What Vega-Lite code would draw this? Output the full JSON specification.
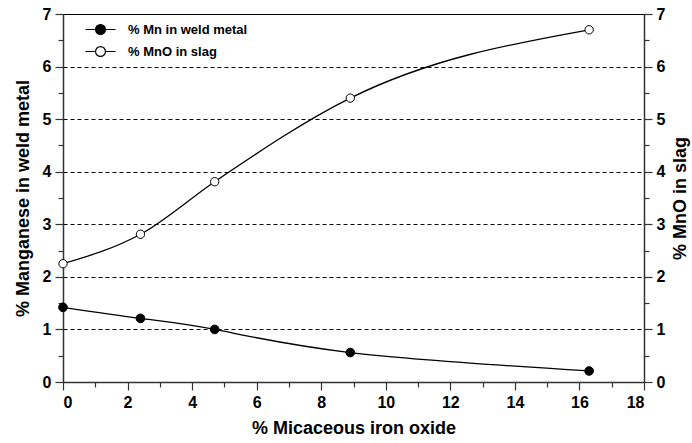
{
  "$schema": "https://vega.github.io/schema/vega-lite/v6.json",
  "width": 581,
  "height": 368,
  "autosize": "none",
  "padding": {"left": 63, "top": 14, "right": 48, "bottom": 61},
  "background": "white",
  "config": {
    "font": "Liberation Sans",
    "view": {"stroke": "black", "strokeWidth": 1},
    "axis": {
      "domainColor": "#333333",
      "domainWidth": 1.5,
      "tickColor": "#333333",
      "tickWidth": 1.2,
      "labelFont": "Liberation Sans",
      "labelFontSize": 16,
      "labelFontWeight": "bold",
      "labelColor": "black",
      "titleFont": "Liberation Sans",
      "titleFontSize": 18,
      "titleFontWeight": "bold",
      "titleColor": "black"
    },
    "legend": {
      "labelFont": "Liberation Sans",
      "labelFontSize": 13,
      "labelFontWeight": "bold",
      "labelColor": "black"
    }
  },
  "data": {
    "values": [
      {"series": "% Mn in weld metal", "x": 0, "y": 1.42},
      {"series": "% Mn in weld metal", "x": 2.4, "y": 1.21},
      {"series": "% Mn in weld metal", "x": 4.7, "y": 1.0},
      {"series": "% Mn in weld metal", "x": 8.9, "y": 0.56},
      {"series": "% Mn in weld metal", "x": 16.3, "y": 0.21},
      {"series": "% MnO in slag", "x": 0, "y": 2.25},
      {"series": "% MnO in slag", "x": 2.4, "y": 2.81},
      {"series": "% MnO in slag", "x": 4.7, "y": 3.81},
      {"series": "% MnO in slag", "x": 8.9, "y": 5.4},
      {"series": "% MnO in slag", "x": 16.3, "y": 6.7}
    ]
  },
  "encoding": {
    "x": {
      "field": "x",
      "type": "quantitative",
      "scale": {"domain": [0, 18], "nice": false, "zero": false},
      "axis": {
        "title": "% Micaceous iron oxide",
        "values": [0,1,2,3,4,5,6,7,8,9,10,11,12,13,14,15,16,17,18],
        "labelExpr": "datum.value % 2 ? '' : format(datum.value, 'd')",
        "tickSize": {"condition": {"test": "datum.value % 2 !== 0", "value": 5}, "value": 8},
        "labelPadding": 4,
        "titlePadding": 9,
        "grid": false
      }
    }
  },
  "layer": [
    {
      "transform": [{"filter": "datum.series === '% Mn in weld metal'"}],
      "encoding": {
        "y": {
          "field": "y",
          "type": "quantitative",
          "scale": {"domain": [0, 7], "nice": false},
          "axis": {
            "title": "% Manganese in weld metal",
            "orient": "left",
            "values": [0,0.5,1,1.5,2,2.5,3,3.5,4,4.5,5,5.5,6,6.5,7],
            "labelExpr": "datum.value % 1 ? '' : format(datum.value, 'd')",
            "tickSize": {"condition": {"test": "datum.value % 1 !== 0", "value": 5}, "value": 8},
            "labelPadding": 4,
            "titlePadding": 10,
            "grid": true,
            "gridColor": "black",
            "gridDash": [4, 3],
            "gridWidth": 1,
            "gridOpacity": {"condition": {"test": "datum.value % 1 === 0 && datum.value > 0 && datum.value < 7", "value": 1}, "value": 0}
          }
        }
      },
      "layer": [
        {"mark": {"type": "line", "interpolate": "natural", "color": "black", "strokeWidth": 1.3}},
        {
          "mark": {"type": "point", "filled": true, "stroke": "black", "strokeWidth": 1, "size": 75, "opacity": 1},
          "encoding": {
            "fill": {
              "field": "series",
              "type": "nominal",
              "scale": {"domain": ["% Mn in weld metal", "% MnO in slag"], "range": ["black", "white"]},
              "legend": {
                "title": null,
                "orient": "none",
                "legendX": 29,
                "legendY": 7,
                "symbolType": "M-2,0L-0.66,0M0.66,0L2,0M0.66,0A0.66,0.66,0,1,1,-0.66,0A0.66,0.66,0,1,1,0.66,0Z",
                "symbolSize": 225,
                "symbolStrokeColor": "black",
                "symbolStrokeWidth": 1.2,
                "labelOffset": 19,
                "rowPadding": 6
              }
            }
          }
        }
      ]
    },
    {
      "transform": [{"filter": "datum.series === '% MnO in slag'"}],
      "encoding": {
        "y": {
          "field": "y",
          "type": "quantitative",
          "scale": {"domain": [0, 7], "nice": false},
          "axis": {
            "title": "% MnO in slag",
            "orient": "right",
            "titleAngle": 270,
            "titleBaseline": "top",
            "values": [0,0.5,1,1.5,2,2.5,3,3.5,4,4.5,5,5.5,6,6.5,7],
            "labelExpr": "datum.value % 1 ? '' : format(datum.value, 'd')",
            "tickSize": {"condition": {"test": "datum.value % 1 !== 0", "value": 5}, "value": 8},
            "labelPadding": 4,
            "titlePadding": 7,
            "grid": false
          }
        }
      },
      "layer": [
        {"mark": {"type": "line", "interpolate": "monotone", "color": "black", "strokeWidth": 1.3}},
        {
          "mark": {"type": "point", "filled": true, "stroke": "black", "strokeWidth": 1, "size": 70, "opacity": 1},
          "encoding": {
            "fill": {"field": "series", "type": "nominal"}
          }
        }
      ]
    }
  ],
  "resolve": {"scale": {"y": "independent"}, "axis": {"y": "independent"}}
}
